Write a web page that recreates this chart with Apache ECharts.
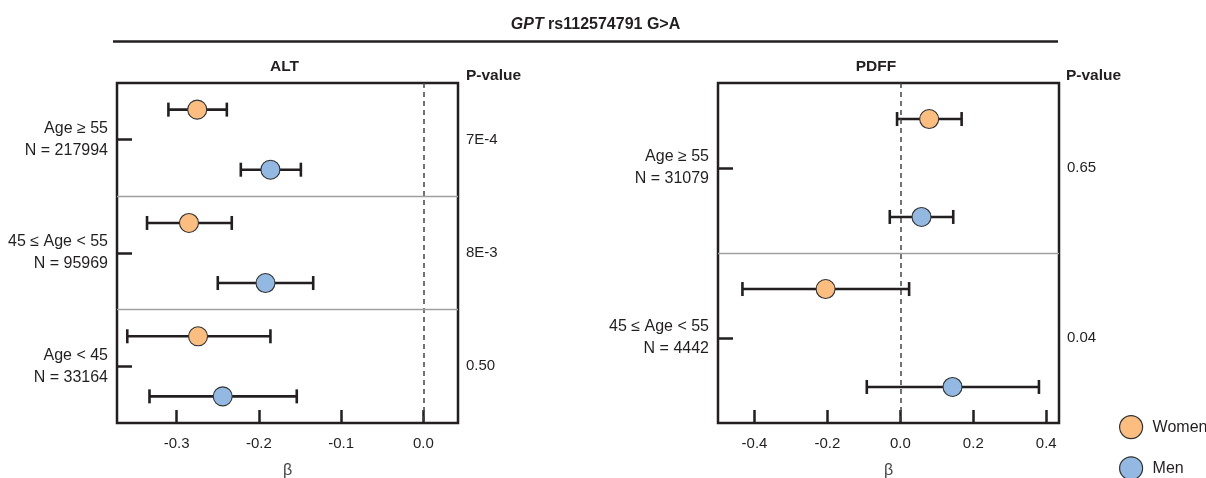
<!DOCTYPE html>
<html><head><meta charset="utf-8">
<script src="https://cdn.jsdelivr.net/npm/echarts@6/dist/echarts.min.js"></script>
<style>html,body{margin:0;padding:0;background:#fff}#c{width:1206px;height:478px}</style>
</head><body><div id="c"></div>
<script>
// ---------- data ----------
const mainTitleGene = 'GPT';
const mainTitleRest = ' rs112574791 G>A';
const seriesNames = ['Women', 'Men'];

const altTitle = 'ALT';
const altGroups = ['Age \u2265 55\nN = 217994', '45 \u2264 Age < 55\nN = 95969', 'Age < 45\nN = 33164'];
const altP = ['7E-4', '8E-3', '0.50'];
const altWomenBeta = [-0.275, -0.285, -0.274];
const altWomenLo   = [-0.310, -0.336, -0.360];
const altWomenHi   = [-0.239, -0.233, -0.186];
const altMenBeta   = [-0.186, -0.192, -0.244];
const altMenLo     = [-0.222, -0.250, -0.333];
const altMenHi     = [-0.149, -0.134, -0.154];
const altXRange    = [-0.3725, 0.042];

const pdffTitle = 'PDFF';
const pdffGroups = ['Age \u2265 55\nN = 31079', '45 \u2264 Age < 55\nN = 4442'];
const pdffP = ['0.65', '0.04'];
const pdffWomenBeta = [0.079, -0.205];
const pdffWomenLo   = [-0.009, -0.433];
const pdffWomenHi   = [0.168, 0.024];
const pdffMenBeta   = [0.058, 0.143];
const pdffMenLo     = [-0.029, -0.092];
const pdffMenHi     = [0.145, 0.380];
const pdffXRange    = [-0.5, 0.435];

const pHeader = 'P-value';
const xName = '\u03b2';

// ---------- style ----------
const FONT = "'Liberation Sans', Arial, Helvetica, sans-serif";
const INK = '#231f20';
const WOMEN = '#fbbe80';
const MEN = '#93b9e3';

const chart = echarts.init(document.getElementById('c'), null, {renderer: 'canvas'});

function gridDef(left) {
  return {left: left, top: 83, width: 341, height: 340, show: true, borderColor: INK, borderWidth: 2.5,
    backgroundColor: 'transparent', containLabel: false, outerBoundsMode: 'none'};
}

function xAxisDef(gi, range) {
  return {
    gridIndex: gi, type: 'value', min: range[0], max: range[1], position: 'bottom',
    axisLine: {show: false, onZero: false},
    axisTick: {show: true, inside: true, length: 13, lineStyle: {color: INK, width: 2.5}},
    splitLine: {show: false},
    axisLabel: {fontSize: 15, color: INK, fontFamily: FONT, margin: 13, showMinLabel: false, showMaxLabel: false,
      formatter: v => v.toFixed(1)},
    name: xName, nameLocation: 'middle', nameGap: 40,
    nameTextStyle: {fontSize: 16, color: '#444', fontFamily: FONT}
  };
}

function yAxesDef(gi, groups, pvals) {
  return [
    {gridIndex: gi, type: 'category', data: groups, inverse: true, position: 'left',
      axisLine: {show: false, onZero: false},
      axisTick: {show: true, inside: true, alignWithLabel: true, length: 15, lineStyle: {color: INK, width: 2.5}},
      splitLine: {show: false},
      axisLabel: {fontSize: 16, lineHeight: 22, color: INK, fontFamily: FONT, margin: 9, align: 'right'}},
    {gridIndex: gi, type: 'category', data: pvals, inverse: true, position: 'right',
      axisLine: {show: false, onZero: false}, axisTick: {show: false}, splitLine: {show: false},
      axisLabel: {fontSize: 15, color: INK, fontFamily: FONT, margin: 8, align: 'left'}},
    {gridIndex: gi, type: 'value', min: 0, max: groups.length, inverse: true, show: false,
      axisLine: {onZero: false}}
  ];
}

function panelSeries(xIdx, yIdx, n, off, wB, wL, wH, mB, mL, mH) {
  const bars = [];
  const women = [], men = [];
  for (let i = 0; i < n; i++) {
    bars.push([i + 0.5 - off, wL[i], wH[i]]);
    bars.push([i + 0.5 + off, mL[i], mH[i]]);
    women.push([wB[i], i + 0.5 - off]);
    men.push([mB[i], i + 0.5 + off]);
  }
  const mlData = [{xAxis: 0, lineStyle: {type: [5, 4], color: '#444', width: 1.5}}];
  for (let k = 1; k < n; k++) mlData.push({yAxis: k, lineStyle: {type: 'solid', color: '#a0a0a0', width: 1.3}});
  return [
    {type: 'custom', xAxisIndex: xIdx, yAxisIndex: yIdx, z: 2, silent: true,
      data: bars, encode: {x: [1, 2], y: 0},
      renderItem: (params, api) => {
        const y = api.value(0), lo = api.value(1), hi = api.value(2);
        const p1 = api.coord([lo, y]), p2 = api.coord([hi, y]);
        const h = 7, st = {stroke: INK, lineWidth: 2.6};
        return {type: 'group', children: [
          {type: 'line', shape: {x1: p1[0], y1: p1[1], x2: p2[0], y2: p2[1]}, style: st},
          {type: 'line', shape: {x1: p1[0], y1: p1[1] - h, x2: p1[0], y2: p1[1] + h}, style: st},
          {type: 'line', shape: {x1: p2[0], y1: p2[1] - h, x2: p2[0], y2: p2[1] + h}, style: st}
        ]};
      },
      markLine: {silent: true, symbol: ['none', 'none'], label: {show: false}, animation: false, data: mlData}
    },
    {type: 'scatter', name: seriesNames[0], xAxisIndex: xIdx, yAxisIndex: yIdx, z: 3, data: women, symbol: 'circle', symbolSize: 19,
      itemStyle: {color: WOMEN, borderColor: '#333', borderWidth: 1.1, opacity: 1}},
    {type: 'scatter', name: seriesNames[1], xAxisIndex: xIdx, yAxisIndex: yIdx, z: 3, data: men, symbol: 'circle', symbolSize: 19,
      itemStyle: {color: MEN, borderColor: '#333', borderWidth: 1.1, opacity: 1}}
  ];
}

function txt(x, y, text, size, bold, align, extra) {
  return {type: 'text', x: x, y: y, silent: true,
    style: Object.assign({text: text, fontSize: size, fontWeight: bold ? 'bold' : 'normal', fontFamily: FONT, fill: INK,
      align: align, verticalAlign: 'middle', textAlign: align, textVerticalAlign: 'middle'}, extra || {})};
}

const option = {
  animation: false,
  backgroundColor: '#fff',
  textStyle: {fontFamily: FONT},
  grid: [gridDef(117), gridDef(718)],
  xAxis: [xAxisDef(0, altXRange), xAxisDef(1, pdffXRange)],
  yAxis: [].concat(yAxesDef(0, altGroups, altP), yAxesDef(1, pdffGroups, pdffP)),
  series: [].concat(
    panelSeries(0, 2, altGroups.length, 0.265, altWomenBeta, altWomenLo, altWomenHi, altMenBeta, altMenLo, altMenHi),
    panelSeries(1, 5, pdffGroups.length, 0.288, pdffWomenBeta, pdffWomenLo, pdffWomenHi, pdffMenBeta, pdffMenLo, pdffMenHi)
  ),
  legend: {
    orient: 'vertical', left: 1119, top: 415, height: 80, itemGap: 17, itemWidth: 23, itemHeight: 23, padding: 0,
    icon: 'circle', selectedMode: false,
    itemStyle: {borderColor: '#333', borderWidth: 1.2},
    textStyle: {fontSize: 16, color: INK, fontFamily: FONT, padding: [0, 0, 0, 5]},
    data: seriesNames
  },
  graphic: [
    {type: 'text', x: 595.5, y: 25, silent: true,
      style: {text: '{g|' + mainTitleGene + '}' + mainTitleRest, fontSize: 16, fontWeight: 'bold', fontFamily: FONT, fill: INK,
        align: 'center', verticalAlign: 'middle', textAlign: 'center', textVerticalAlign: 'middle',
        rich: {g: {fontSize: 16, fontWeight: 'bold', fontStyle: 'italic', fontFamily: FONT, fill: INK, color: INK}}}},
    {type: 'line', silent: true, shape: {x1: 113, y1: 41.5, x2: 1058, y2: 41.5}, style: {stroke: INK, lineWidth: 2.5}},
    txt(284.5, 67, altTitle, 15.5, true, 'center'),
    txt(876, 67, pdffTitle, 15.5, true, 'center'),
    txt(466, 76, pHeader, 15.5, true, 'left'),
    txt(1066, 76, pHeader, 15.5, true, 'left')
  ]
};
chart.setOption(option);
</script>
</body></html>
